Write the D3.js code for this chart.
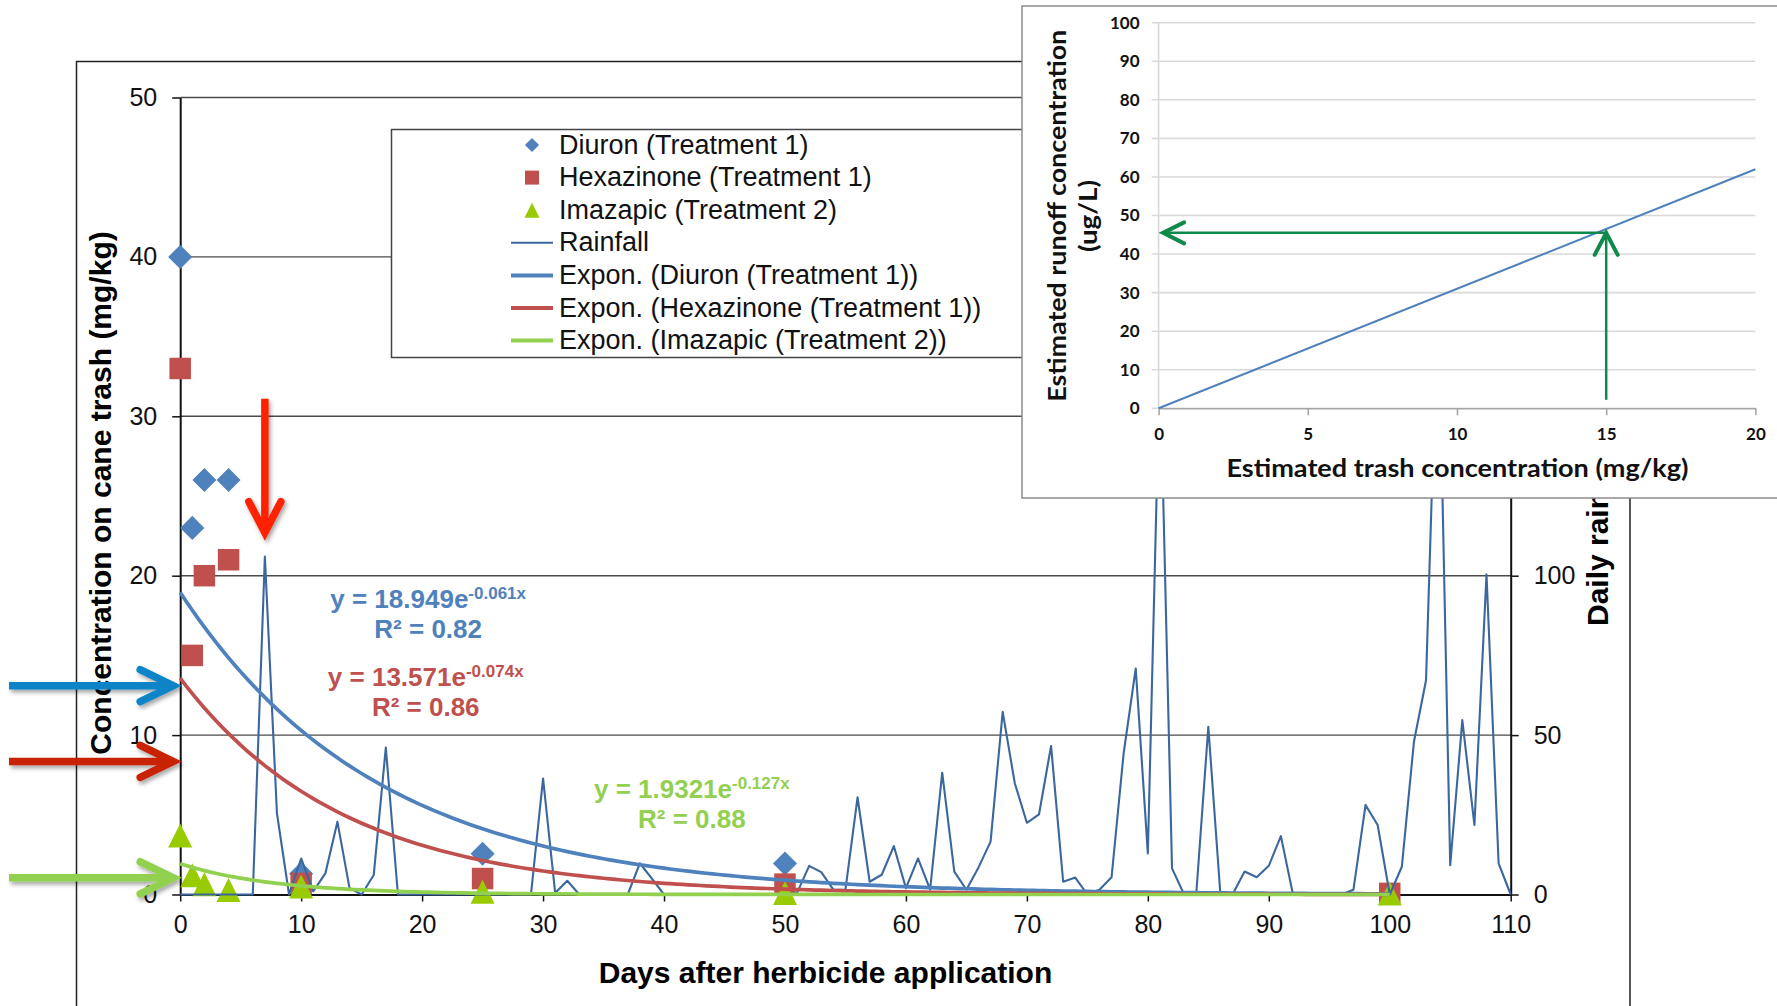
<!DOCTYPE html>
<html>
<head>
<meta charset="utf-8">
<title>Herbicide residues on cane trash</title>
<script src="https://cdn.jsdelivr.net/npm/d3@7/dist/d3.min.js"></script>
<style>
body { margin: 0; background: #fff; }
svg { display: block; }
text { font-family: "Liberation Sans", Arial, sans-serif; }
.inset text { font-family: Lato, "Open Sans", sans-serif; font-weight: bold; }
</style>
</head>
<body>
<svg id="chart" width="1777" height="1006"></svg>
<script>

// sampling days and residues on cane trash (mg/kg)
var sampleDays = [0, 1, 2, 4, 10, 25, 50, 100];
var diuron     = [40, 23, 26, 26, 1.3, 2.55, 1.95, null];
var hexazinone = [33, 15, 20, 21, 0.7, 1.0, 0.65, 0.07];
var imazapic   = [3.7, 1.2, 0.65, 0.28, 0.5, 0.18, 0.1, 0.07];

// exponential fits y = a * e^(b x), as printed on the chart
var fitA  = [18.949, 13.571, 1.9321];
var fitB  = [-0.061, -0.074, -0.127];
var fitR2 = [0.82, 0.86, 0.88];

// daily rainfall (mm), day 0 .. 110
var rainfall = [
    0, 0, 0, 0, 0, 0, 0, 106, 25.4, 0,
    11.3, 1, 6.6, 22.8, 2, 0, 6.1, 46.1, 0, 0,
    0, 0, 0, 0, 0, 0, 0, 0, 0, 0,
    36.4, 0.5, 4.3, 0, 0, 0, 0, 0, 9.8, 5,
    0, 0, 0, 0, 0, 0, 0, 0, 0, 0,
    0, 0.5, 9, 7, 1.5, 1.5, 30.5, 4, 6.2, 15.2,
    2, 11.3, 1.5, 38.2, 7.2, 1.5, 8.5, 16.6, 57.3, 34.9,
    22.5, 25.1, 46.6, 4, 5.3, 0, 1.5, 5.4, 44.3, 70.9,
    12.9, 168, 8.2, 0, 0, 52.6, 0, 0, 7.2, 5.4,
    9, 18.3, 0, 0, 0, 0, 0, 1.5, 28.1, 21.8,
    0, 8.7, 47.9, 67.2, 190, 9.2, 54.7, 21.8, 100.4, 9.8, 0
];

var xTicks    = [0, 10, 20, 30, 40, 50, 60, 70, 80, 90, 100, 110];
var yTicks    = [0, 10, 20, 30, 40, 50];
var rainTicks = [0, 50, 100, 150, 200, 250];

var legendLabels = [
    "Diuron (Treatment 1)", "Hexazinone (Treatment 1)", "Imazapic (Treatment 2)", "Rainfall",
    "Expon. (Diuron (Treatment 1))", "Expon. (Hexazinone (Treatment 1))", "Expon. (Imazapic (Treatment 2))"
];

// annotation arrows (left side, mg/kg) and the rain event arrow (day, from -> to mg/kg)
var arrowLevels = [13.1, 8.35, 1.05];
var rainArrow   = [7, 31.1, 22.7];

// inset: runoff vs trash concentration
var insetTrash  = [0, 20];
var insetRunoff = [0, 62];
var insetXTicks = [0, 5, 10, 15, 20];
var insetYTicks = [0, 10, 20, 30, 40, 50, 60, 70, 80, 90, 100];
var readOff     = [15, 45.5];

var seriesColors = ["#4F81BD", "#C0504D", "#99CC00"];
var fitColors    = ["#4F81BD", "#C0504D", "#92D050"];
var arrowColors  = ["#0A84C8", "#C82200", "#92D050"];
var rainColor    = "#3B679F";

var svg = d3.select("#chart");

svg.append("rect").attr("width", 1777).attr("height", 1006).attr("fill", "#fff");

var shadow = svg.append("defs").append("filter")
    .attr("id", "shadow")
    .attr("filterUnits", "userSpaceOnUse")
    .attr("x", 0).attr("y", 0).attr("width", 1777).attr("height", 1006);
shadow.append("feDropShadow")
    .attr("dx", 2).attr("dy", 3).attr("stdDeviation", 2)
    .attr("flood-color", "#000").attr("flood-opacity", 0.35);

var x = d3.scaleLinear().domain([0, 110]).range([180.2, 1510.7]);
var y = d3.scaleLinear().domain([0, 50]).range([894.5, 97.5]);
var yRain = d3.scaleLinear().domain([0, 250]).range([894.5, 97.5]);

// outer frame of the chart
svg.append("rect")
    .attr("x", 76.5).attr("y", 61.5)
    .attr("width", 1630 - 76.5).attr("height", 1000)
    .attr("fill", "none").attr("stroke", "#222").attr("stroke-width", 1.5);

// gridlines
svg.append("g").selectAll("line")
    .data(yTicks.slice(1))
    .enter()
    .append("line")
    .attr("x1", x(0)).attr("x2", x(110))
    .attr("y1", function(d) { return y(d); })
    .attr("y2", function(d) { return y(d); })
    .attr("stroke", "#4a4a4a")
    .attr("stroke-width", 1.4);

var styleAxis = function(g) {
    g.attr("font-size", 25).attr("fill", null);
    g.select(".domain").attr("stroke", "#111").attr("stroke-width", 2);
    g.selectAll(".tick line").attr("stroke", "#111").attr("stroke-width", 1.5);
    g.selectAll(".tick text").attr("fill", "#111");
};

svg.append("g")
    .attr("transform", "translate(" + x(0) + ",0)")
    .call(d3.axisLeft(y).tickValues(yTicks).tickSize(8).tickSizeOuter(0).tickPadding(15))
    .call(styleAxis);

svg.append("g")
    .attr("transform", "translate(" + x(110) + ",0)")
    .call(d3.axisRight(yRain).tickValues(rainTicks).tickSize(8).tickSizeOuter(0).tickPadding(15))
    .call(styleAxis);

svg.append("g")
    .attr("transform", "translate(0," + y(0) + ")")
    .call(d3.axisBottom(x).tickValues(xTicks).tickSize(7).tickSizeOuter(0).tickPadding(14))
    .call(styleAxis);

// markers
var boxTriangle = {
    draw: function(ctx, size) {
        var r = Math.sqrt(size) / 2;
        ctx.moveTo(0, -r);
        ctx.lineTo(r, r);
        ctx.lineTo(-r, r);
        ctx.closePath();
    }
};
var markerShapes = [
    { type: d3.symbolSquare, size: 17 * 17, rotate: 45 },
    { type: d3.symbolSquare, size: 21.5 * 21.5, rotate: 0 },
    { type: boxTriangle, size: 24 * 24, rotate: 0 }
];

[diuron, hexazinone, imazapic].forEach(function(series, k) {
    var pts = sampleDays
        .map(function(d, i) { return { day: d, value: series[i] }; })
        .filter(function(p) { return p.value !== null; });
    svg.append("g").selectAll("path")
        .data(pts)
        .enter()
        .append("path")
        .attr("d", d3.symbol().type(markerShapes[k].type).size(markerShapes[k].size))
        .attr("transform", function(p) {
            return "translate(" + x(p.day) + "," + y(p.value) + ") rotate(" + markerShapes[k].rotate + ")";
        })
        .attr("fill", seriesColors[k]);
});

// rainfall on the secondary axis
var rainLine = d3.line()
    .x(function(d, i) { return x(i); })
    .y(function(d) { return yRain(d); });

svg.append("path")
    .datum(rainfall)
    .attr("d", rainLine)
    .attr("fill", "none")
    .attr("stroke", rainColor)
    .attr("stroke-width", 2.1)
    .attr("stroke-linejoin", "round");

// exponential trend lines
var curveDays = d3.range(0, 100.01, 0.5);
fitA.forEach(function(a, k) {
    var fit = d3.line()
        .x(function(d) { return x(d); })
        .y(function(d) { return y(a * Math.exp(fitB[k] * d)); });
    svg.append("path")
        .datum(curveDays)
        .attr("d", fit)
        .attr("fill", "none")
        .attr("stroke", fitColors[k])
        .attr("stroke-width", 3.7);
});

// equation labels (day, mg/kg of the first baseline)
var eqAnchors = [[20.5, 18.0], [20.3, 13.1], [42.3, 6.05]];
fitA.forEach(function(a, k) {
    var t = svg.append("text")
        .attr("x", x(eqAnchors[k][0]))
        .attr("y", y(eqAnchors[k][1]))
        .attr("text-anchor", "middle")
        .attr("font-size", 26)
        .attr("font-weight", "bold")
        .attr("fill", fitColors[k]);
    t.append("tspan").text("y = " + a + "e");
    t.append("tspan").attr("dy", -9).attr("font-size", 17).text(fitB[k] + "x");

    svg.append("text")
        .attr("x", x(eqAnchors[k][0]))
        .attr("y", y(eqAnchors[k][1]) + 30)
        .attr("text-anchor", "middle")
        .attr("font-size", 26)
        .attr("font-weight", "bold")
        .attr("fill", fitColors[k])
        .text("R\u00b2 = " + fitR2[k].toFixed(2));
});

// legend
var legend = svg.append("g");
legend.append("rect")
    .attr("x", 391.5).attr("y", 129.5)
    .attr("width", 720).attr("height", 228)
    .attr("fill", "#fff").attr("stroke", "#444").attr("stroke-width", 1.5);

var rowY = function(i) { return 145 + i * 32.6; };
var legendSym = [
    { type: d3.symbolSquare, size: 10 * 10, rotate: 45 },
    { type: d3.symbolSquare, size: 14 * 14, rotate: 0 },
    { type: boxTriangle, size: 15 * 15, rotate: 0 }
];

legendLabels.forEach(function(label, i) {
    if (i < 3) {
        legend.append("path")
            .attr("d", d3.symbol().type(legendSym[i].type).size(legendSym[i].size))
            .attr("transform", "translate(532," + rowY(i) + ") rotate(" + legendSym[i].rotate + ")")
            .attr("fill", seriesColors[i]);
    } else {
        legend.append("line")
            .attr("x1", 511).attr("x2", 553)
            .attr("y1", rowY(i)).attr("y2", rowY(i))
            .attr("stroke", i === 3 ? rainColor : fitColors[i - 4])
            .attr("stroke-width", i === 3 ? 2 : 4);
    }
    legend.append("text")
        .attr("x", 559)
        .attr("y", rowY(i) + 8.5)
        .attr("font-size", 27)
        .attr("fill", "#111")
        .text(label);
});

// axis titles
svg.append("text")
    .attr("x", 825.5).attr("y", 983)
    .attr("text-anchor", "middle")
    .attr("font-size", 30).attr("font-weight", "bold")
    .text("Days after herbicide application");

svg.append("text")
    .attr("transform", "translate(111,493) rotate(-90)")
    .attr("text-anchor", "middle")
    .attr("font-size", 30).attr("font-weight", "bold")
    .text("Concentration on cane trash (mg/kg)");

svg.append("text")
    .attr("transform", "translate(1608,496) rotate(-90)")
    .attr("text-anchor", "middle")
    .attr("font-size", 30).attr("font-weight", "bold")
    .text("Daily rainfall (mm)");

// annotation arrows
arrowLevels.forEach(function(v, k) {
    var yy = y(v), tip = x(0) - 7;
    var g = svg.append("g")
        .attr("filter", "url(#shadow)")
        .attr("fill", "none")
        .attr("stroke", arrowColors[k])
        .attr("stroke-width", 7.5);
    g.append("path").attr("d", "M9," + yy + "H" + (tip - 3));
    g.append("path")
        .attr("d", "M" + (tip - 33) + "," + (yy - 16) + "L" + tip + "," + yy + "L" + (tip - 33) + "," + (yy + 16))
        .attr("stroke-linecap", "round");
});

var rx = x(rainArrow[0]), rTop = y(rainArrow[1]), rTip = y(rainArrow[2]);
var rg = svg.append("g")
    .attr("filter", "url(#shadow)")
    .attr("fill", "none")
    .attr("stroke", "#FF2200")
    .attr("stroke-width", 7.5);
rg.append("path").attr("d", "M" + rx + "," + rTop + "V" + (rTip - 3));
rg.append("path")
    .attr("d", "M" + (rx - 16) + "," + (rTip - 31) + "L" + rx + "," + rTip + "L" + (rx + 16) + "," + (rTip - 31))
    .attr("stroke-linecap", "round");

// inset chart
var inset = svg.append("g").attr("class", "inset");
inset.append("rect")
    .attr("x", 1022).attr("y", 6)
    .attr("width", 770).attr("height", 492)
    .attr("fill", "#fff").attr("stroke", "#8c8c8c").attr("stroke-width", 1.5);

var ix = d3.scaleLinear().domain([0, 20]).range([1158.6, 1755.4]);
var iy = d3.scaleLinear().domain([0, 100]).range([408.3, 22.7]);

inset.append("g").selectAll("line")
    .data(insetYTicks)
    .enter()
    .append("line")
    .attr("x1", ix(0) - 7).attr("x2", ix(20))
    .attr("y1", function(d) { return iy(d); })
    .attr("y2", function(d) { return iy(d); })
    .attr("stroke", "#d9d9d9")
    .attr("stroke-width", 1.6);

inset.append("line")
    .attr("x1", ix(0)).attr("x2", ix(0))
    .attr("y1", iy(0)).attr("y2", iy(100))
    .attr("stroke", "#d9d9d9").attr("stroke-width", 1.6);

var iyAxis = inset.append("g")
    .attr("transform", "translate(" + ix(0) + ",0)")
    .call(d3.axisLeft(iy).tickValues(insetYTicks).tickSize(0).tickPadding(19));
iyAxis.attr("font-size", 17);
iyAxis.select(".domain").remove();
iyAxis.selectAll(".tick text").attr("fill", "#111");

var ixAxis = inset.append("g")
    .attr("transform", "translate(0," + iy(0) + ")")
    .call(d3.axisBottom(ix).tickValues(insetXTicks).tickSize(7).tickSizeOuter(0).tickPadding(13));
ixAxis.attr("font-size", 17);
ixAxis.select(".domain").attr("stroke", "#a6a6a6").attr("stroke-width", 1.6);
ixAxis.selectAll(".tick line").attr("stroke", "#a6a6a6").attr("stroke-width", 1.6);
ixAxis.selectAll(".tick text").attr("fill", "#111");

inset.append("path")
    .datum(d3.zip(insetTrash, insetRunoff))
    .attr("d", d3.line()
        .x(function(d) { return ix(d[0]); })
        .y(function(d) { return iy(d[1]); }))
    .attr("fill", "none")
    .attr("stroke", "#4F81BD")
    .attr("stroke-width", 2);

// read-off arrows
var ax = ix(readOff[0]), ay = iy(readOff[1]), aLeft = ix(0.15);
var ag = inset.append("g").attr("fill", "none").attr("stroke", "#0F8A4B");
ag.append("path").attr("d", "M" + ax + "," + iy(2.2) + "V" + ay).attr("stroke-width", 2.5);
ag.append("path").attr("d", "M" + ax + "," + ay + "H" + aLeft).attr("stroke-width", 2.5);
ag.append("path")
    .attr("d", "M" + (ax - 11.5) + "," + (ay + 22) + "L" + ax + "," + ay + "L" + (ax + 11.5) + "," + (ay + 22))
    .attr("stroke-width", 4).attr("stroke-linecap", "round");
ag.append("path")
    .attr("d", "M" + (aLeft + 21) + "," + (ay - 10.5) + "L" + aLeft + "," + ay + "L" + (aLeft + 21) + "," + (ay + 10.5))
    .attr("stroke-width", 4).attr("stroke-linecap", "round");

inset.append("text")
    .attr("x", 1457.5).attr("y", 476.7)
    .attr("text-anchor", "middle")
    .attr("font-size", 24)
    .attr("textLength", 462).attr("lengthAdjust", "spacingAndGlyphs")
    .attr("fill", "#111")
    .text("Estimated trash concentration (mg/kg)");

inset.append("text")
    .attr("transform", "translate(1066,215.8) rotate(-90)")
    .attr("text-anchor", "middle")
    .attr("font-size", 25)
    .attr("textLength", 372).attr("lengthAdjust", "spacingAndGlyphs")
    .attr("fill", "#111")
    .text("Estimated runoff concentration");

inset.append("text")
    .attr("transform", "translate(1097,216) rotate(-90)")
    .attr("text-anchor", "middle")
    .attr("font-size", 25)
    .attr("textLength", 72).attr("lengthAdjust", "spacingAndGlyphs")
    .attr("fill", "#111")
    .text("(ug/L)");

</script>
</body>
</html>
